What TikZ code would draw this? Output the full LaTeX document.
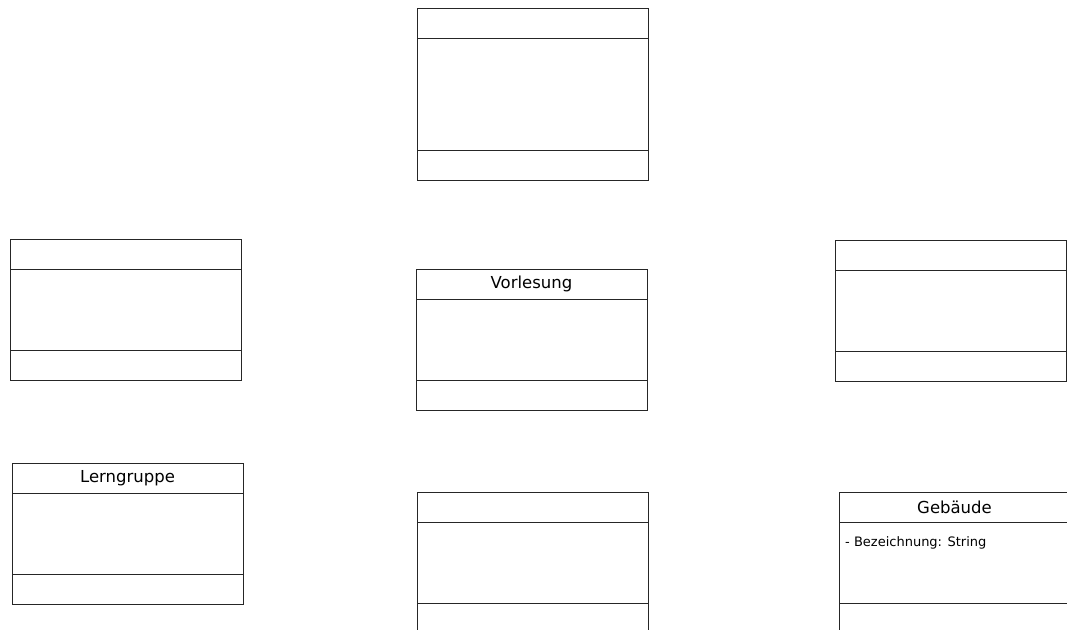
\documentclass[tikz,border=0pt]{standalone}
\usepackage{fontspec}
\setmainfont{DejaVu Sans}
\usetikzlibrary{positioning}
\tikzset{
    part/.style={draw=black!85, line width=0.9pt, minimum width=231pt,
                 inner sep=0pt, outer sep=0pt},
    head/.style={part, anchor=north west, minimum height=30pt,
                 font=\fontsize{16.5}{20}\selectfont},
    body/.style={part, minimum height=81pt},
    foot/.style={part, minimum height=30pt},
    attr/.style={anchor=north west, inner sep=0pt, font=\fontsize{13}{16}\selectfont},
}
\newcommand{\classtitle}[1]{\raisebox{-1.5pt}{#1}}
\begin{document}
\begin{tikzpicture}[x=1pt, y=-1pt]

    \useasboundingbox (0,0) rectangle (1067,629);
    \clip (0,0) rectangle (1067,629);

    % top
    \node[head] (tophead) at (417,8) {};
    \node[body, minimum height=112pt, below=0pt of tophead] (topbody) {};
    \node[foot, below=0pt of topbody] (topfoot) {};

    % middle row
    \node[head] (lefthead) at (10,239) {};
    \node[body, below=0pt of lefthead] (leftbody) {};
    \node[foot, below=0pt of leftbody] (leftfoot) {};

    \node[head] (vorlhead) at (416,269) {\classtitle{Vorlesung}};
    \node[body, below=0pt of vorlhead] (vorlbody) {};
    \node[foot, below=0pt of vorlbody] (vorlfoot) {};

    \node[head] (righthead) at (835,240) {};
    \node[body, below=0pt of righthead] (rightbody) {};
    \node[foot, below=0pt of rightbody] (rightfoot) {};

    % bottom row
    \node[head] (lernhead) at (12,463) {\classtitle{Lerngruppe}};
    \node[body, below=0pt of lernhead] (lernbody) {};
    \node[foot, below=0pt of lernbody] (lernfoot) {};

    \node[head] (bothead) at (417,492) {};
    \node[body, below=0pt of bothead] (botbody) {};
    \node[foot, below=0pt of botbody] (botfoot) {};

    \node[head] (gebhead) at (839,492) {\classtitle{Gebäude}};
    \node[body, below=0pt of gebhead] (gebbody) {};
    \node[foot, below=0pt of gebbody] (gebfoot) {};
    \node[attr] (gebattr) at ([xshift=6pt, yshift=-14pt]gebbody.north west)
        {- Bezeichnung: String};

\end{tikzpicture}
\end{document}
